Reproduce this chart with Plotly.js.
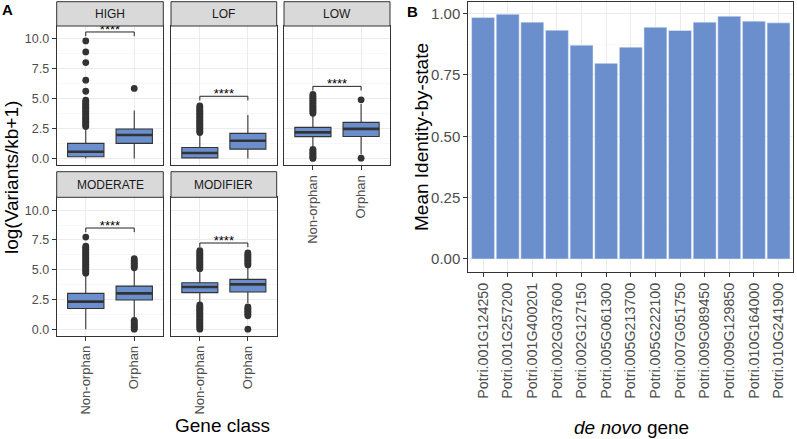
<!DOCTYPE html>
<html>
<head>
<meta charset="utf-8">
<script src="https://cdn.plot.ly/plotly-3.0.1.min.js"></script>
<style>html,body{margin:0;padding:0;background:#fff;}#chart{width:797px;height:439px;}</style>
</head>
<body>
<div id="chart"></div>
<script>
// ---------- Panel A data ----------
const facets = ['HIGH', 'LOF', 'LOW', 'MODERATE', 'MODIFIER'];
const geneClass = ['Non-orphan', 'Orphan'];
const q1 = [[0.14, 1.26], [0.05, 0.78], [1.82, 1.83], [1.73, 2.45], [3.07, 3.12]];
const medians = [[0.56, 1.96], [0.45, 1.48], [2.18, 2.47], [2.31, 3.01], [3.54, 3.76]];
const q3 = [[1.26, 2.46], [0.92, 2.10], [2.60, 3.02], [3.01, 3.62], [3.90, 4.18]];
const lowerWhisker = [[0, 0], [0, 0], [0.90, 0.35], [0, 0.98], [2.10, 2.20]];
const upperWhisker = [[2.60, 4.00], [2.10, 3.63], [3.70, 4.55], [4.60, 5.05], [5.00, 5.28]];
const outliersNonOrphan = [
  [2.68, 2.79, 2.90, 3.02, 3.13, 3.25, 3.36, 3.47, 3.60, 3.71, 3.83, 3.94, 4.06, 4.18, 4.29, 4.41, 4.52, 4.64, 4.75, 4.87, 5.62, 6.55, 8.02, 8.91, 9.83],
  [2.17, 2.28, 2.40, 2.51, 2.63, 2.74, 2.86, 2.97, 3.09, 3.20, 3.32, 3.44, 3.55, 3.67, 3.78, 3.90, 4.02, 4.14, 4.27, 4.40],
  [0, 0.10, 0.20, 0.31, 0.42, 0.53, 0.64, 0.76, 3.78, 3.90, 4.02, 4.14, 4.26, 4.38, 4.50, 4.62, 4.74, 4.86, 4.98, 5.10, 5.22, 5.36],
  [4.70, 4.82, 4.95, 5.07, 5.20, 5.33, 5.45, 5.58, 5.70, 5.83, 5.96, 6.08, 6.21, 6.34, 6.46, 6.59, 6.72, 6.85, 6.97, 7.74],
  [0, 0.12, 0.24, 0.36, 0.48, 0.60, 0.72, 0.84, 0.96, 1.08, 1.20, 1.32, 1.44, 1.56, 1.68, 1.80, 1.92, 2.04, 5.08, 5.20, 5.33, 5.45, 5.58, 5.71, 5.83, 5.96, 6.09, 6.22, 6.35, 6.48, 6.60]
];
const outliersOrphan = [
  [5.86],
  [],
  [0.02, 4.90],
  [0, 0.11, 0.23, 0.35, 0.47, 0.60, 0.74, 5.15, 5.27, 5.40, 5.52, 5.65, 5.78, 5.92],
  [0, 1.12, 1.25, 1.38, 1.50, 1.62, 1.75, 1.87, 5.40, 5.52, 5.65, 5.78, 5.90, 6.03, 6.16, 6.28, 6.40]
];
const signifHeights = [10.58, 5.20, 6.03, 8.50, 7.24];
const signifLabels = ['****', '****', '****', '****', '****'];

// ---------- Panel B data ----------
const genes = ['Potri.001G124250', 'Potri.001G257200', 'Potri.001G400201', 'Potri.002G037600',
  'Potri.002G127150', 'Potri.005G061300', 'Potri.005G213700', 'Potri.005G222100',
  'Potri.007G051750', 'Potri.009G089450', 'Potri.009G129850', 'Potri.010G164000', 'Potri.010G241900'];
const meanIBS = [0.984, 0.997, 0.965, 0.932, 0.871, 0.797, 0.863, 0.944, 0.931, 0.965, 0.989, 0.969, 0.962];

// ---------- styling ----------
const W = 797, H = 439;
const px = v => v / W, py = v => 1 - v / H;
const FONT = 'Liberation Sans, Arial, Helvetica, sans-serif';
const BLUE = '#6b8fcc';
const DARK = '#333333';
const GRID = '#ebebeb';
const TICKCOL = '#4d4d4d';
const colDom = [[56.7, 163.3], [171, 276.7], [284, 390]];
const rowDom = [[26, 165], [197.3, 335.7]];
const stripRows = [[1.7, 26], [171.7, 197.3]];
const facetPos = [[0, 0], [0, 1], [0, 2], [1, 0], [1, 1]]; // [row, col]
const boxWidth = 0.75;

const traces = [];
const layout = {
  width: W, height: H,
  margin: {l: 0, r: 0, t: 0, b: 0},
  paper_bgcolor: '#fff', plot_bgcolor: '#fff',
  showlegend: false,
  font: {family: FONT, color: '#000'},
  shapes: [], annotations: []
};

facets.forEach((f, i) => {
  const n = i + 1;
  const xa = 'x' + n, ya = 'y' + n;
  const [r, c] = facetPos[i];
  const showX = (r === 1) || (c === 2);
  const showY = (c === 0);
  layout['xaxis' + n] = {
    domain: [px(colDom[c][0]), px(colDom[c][1])],
    anchor: ya, range: [-0.6, 1.6],
    tickmode: 'array', tickvals: [0, 1], ticktext: geneClass,
    showticklabels: showX, ticks: showX ? 'outside' : '', ticklen: 4, tickcolor: DARK, tickwidth: 1,
    tickangle: -90, tickfont: {size: 13, color: TICKCOL, family: FONT},
    showgrid: true, gridcolor: GRID, gridwidth: 1,
    showline: true, mirror: true, linecolor: DARK, linewidth: 1,
    zeroline: false, fixedrange: true
  };
  layout['yaxis' + n] = {
    domain: [py(rowDom[r][1]), py(rowDom[r][0])],
    anchor: xa, range: [-0.55, 11.08],
    tickmode: 'linear', tick0: 0, dtick: 2.5, tickformat: '.1f',
    showticklabels: showY, ticks: showY ? 'outside' : '', ticklen: 4, tickcolor: DARK, tickwidth: 1,
    tickfont: {size: 12.5, color: TICKCOL, family: FONT},
    showgrid: true, gridcolor: GRID, gridwidth: 1,
    minor: {tick0: 0, dtick: 1.25, showgrid: true, gridcolor: '#f2f2f2', gridwidth: 0.6},
    showline: true, mirror: true, linecolor: DARK, linewidth: 1,
    zeroline: false, fixedrange: true
  };
  // boxes
  traces.push({
    type: 'box', xaxis: xa, yaxis: ya,
    x: [0, 1], q1: q1[i], median: medians[i], q3: q3[i],
    lowerfence: lowerWhisker[i], upperfence: upperWhisker[i],
    boxpoints: false, width: boxWidth, whiskerwidth: 0,
    fillcolor: BLUE, line: {color: DARK, width: 1.1},
    hoverinfo: 'skip'
  });
  // thick median line (ggplot fatten)
  const mx = [], my = [];
  medians[i].forEach((m, j) => { mx.push(j - boxWidth / 2, j + boxWidth / 2, null); my.push(m, m, null); });
  traces.push({type: 'scatter', mode: 'lines', xaxis: xa, yaxis: ya, x: mx, y: my,
    line: {color: DARK, width: 2.6}, hoverinfo: 'skip'});
  // outliers
  const ox = [], oy = [];
  outliersNonOrphan[i].forEach(v => { ox.push(0); oy.push(v); });
  outliersOrphan[i].forEach(v => { ox.push(1); oy.push(v); });
  traces.push({type: 'scatter', mode: 'markers', xaxis: xa, yaxis: ya, x: ox, y: oy,
    marker: {color: DARK, size: 6.8, line: {width: 0}}, hoverinfo: 'skip', cliponaxis: false});
  // significance bracket
  const b = signifHeights[i], d = 0.35;
  traces.push({type: 'scatter', mode: 'lines', xaxis: xa, yaxis: ya,
    x: [0, 0, 1, 1], y: [b - d, b, b, b - d],
    line: {color: '#222', width: 1}, hoverinfo: 'skip'});
  traces.push({type: 'scatter', mode: 'text', xaxis: xa, yaxis: ya,
    x: [0.5], y: [b + 0.12], text: [signifLabels[i]], textposition: 'middle center',
    textfont: {size: 13, color: '#000', family: FONT}, hoverinfo: 'skip', cliponaxis: true});
  // strip
  const sr = stripRows[r];
  layout.shapes.push({type: 'rect', xref: 'paper', yref: 'paper',
    x0: px(colDom[c][0]), x1: px(colDom[c][1]), y0: py(sr[1]), y1: py(sr[0]),
    fillcolor: '#d9d9d9', line: {color: DARK, width: 1}, layer: 'above'});
  layout.annotations.push({xref: 'paper', yref: 'paper',
    x: px((colDom[c][0] + colDom[c][1]) / 2), y: py((sr[0] + sr[1]) / 2),
    text: f, showarrow: false, xanchor: 'center', yanchor: 'middle',
    font: {size: 12, color: '#1a1a1a', family: FONT}});
});

// ---------- Panel B ----------
traces.push({
  type: 'bar', xaxis: 'x6', yaxis: 'y6',
  x: genes.map((g, i) => i), y: meanIBS,
  marker: {color: BLUE, line: {color: '#e8eef8', width: 0.5}},
  hoverinfo: 'skip'
});
layout.xaxis6 = {
  domain: [px(468.3), px(793.3)], anchor: 'y6', range: [-0.6, 12.6],
  tickmode: 'array', tickvals: genes.map((g, i) => i), ticktext: genes,
  tickangle: -90, ticks: 'outside', ticklen: 4, tickcolor: DARK, tickwidth: 1,
  tickfont: {size: 14.3, color: TICKCOL, family: FONT},
  showgrid: true, gridcolor: GRID, gridwidth: 1,
  showline: true, mirror: true, linecolor: DARK, linewidth: 1, zeroline: false, fixedrange: true
};
layout.yaxis6 = {
  domain: [py(272), py(2)], anchor: 'x6', range: [-0.053, 1.047],
  tickmode: 'linear', tick0: 0, dtick: 0.25, tickformat: '.2f',
  ticks: 'outside', ticklen: 4, tickcolor: DARK, tickwidth: 1,
  tickfont: {size: 15, color: TICKCOL, family: FONT},
  showgrid: true, gridcolor: GRID, gridwidth: 1,
  minor: {tick0: 0, dtick: 0.125, showgrid: true, gridcolor: '#f2f2f2', gridwidth: 0.6},
  showline: true, mirror: true, linecolor: DARK, linewidth: 1, zeroline: false, fixedrange: true
};
layout.bargap = 0.07;

// ---------- titles & panel labels ----------
const titleFont = {size: 19, color: '#000', family: FONT};
layout.annotations.push(
  {xref: 'paper', yref: 'paper', x: px(223), y: py(425), text: 'Gene class', showarrow: false,
    xanchor: 'center', yanchor: 'middle', font: titleFont},
  {xref: 'paper', yref: 'paper', x: px(11), y: py(178), text: 'log(Variants/kb+1)', showarrow: false,
    textangle: -90, xanchor: 'center', yanchor: 'middle', font: titleFont},
  {xref: 'paper', yref: 'paper', x: px(421), y: py(137), text: 'Mean Identity-by-state', showarrow: false,
    textangle: -90, xanchor: 'center', yanchor: 'middle', font: titleFont},
  {xref: 'paper', yref: 'paper', x: px(631), y: py(427), text: '<i>de novo</i> gene', showarrow: false,
    xanchor: 'center', yanchor: 'middle', font: titleFont},
  {xref: 'paper', yref: 'paper', x: px(7.5), y: py(10), text: '<b>A</b>', showarrow: false,
    xanchor: 'center', yanchor: 'middle', font: {size: 15, color: '#000', family: FONT}},
  {xref: 'paper', yref: 'paper', x: px(412.5), y: py(11.5), text: '<b>B</b>', showarrow: false,
    xanchor: 'center', yanchor: 'middle', font: {size: 15, color: '#000', family: FONT}}
);

Plotly.newPlot('chart', traces, layout, {staticPlot: true, displayModeBar: false});
</script>
</body>
</html>
